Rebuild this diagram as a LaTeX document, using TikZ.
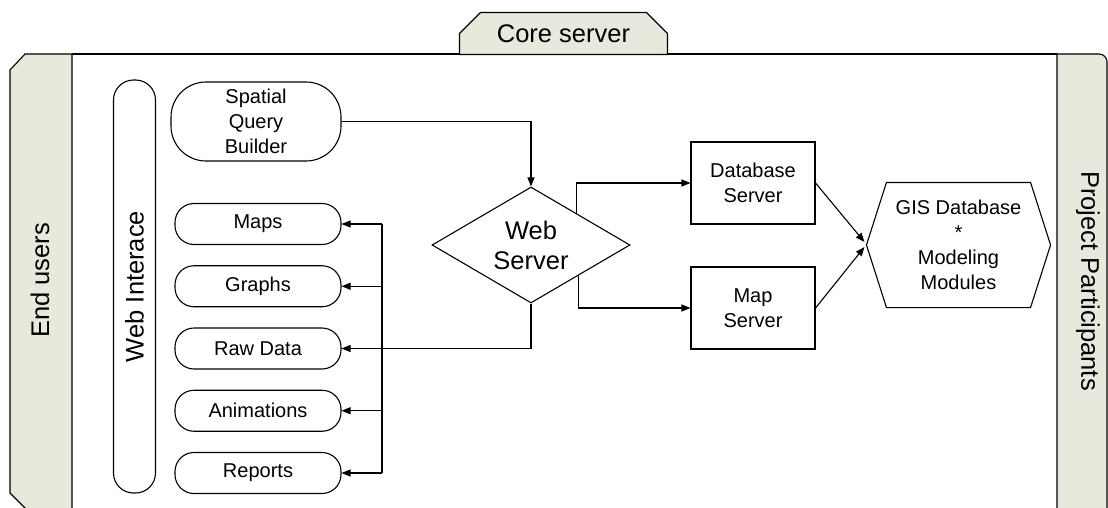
\documentclass[tikz,border=0pt]{standalone}
\usepackage{fontspec}
\setmainfont{Liberation Sans}
\usetikzlibrary{arrows.meta, calc, shapes.geometric, shapes.misc}
\definecolor{bandFill}{RGB}{230, 233, 219}
\tikzset{
  Lbl/.style     = {font=\fontsize{20}{25}\selectfont, align=center, inner sep=0pt},
  Big/.style     = {font=\fontsize{25.5}{30}\selectfont, align=center, inner sep=0pt},
  Band/.style    = {draw, fill=bandFill},
  BandTxt/.style = {Big},
  Tab/.style     = {Big, draw, fill=bandFill, chamfered rectangle,
                    chamfered rectangle corners={north west, north east},
                    chamfered rectangle xsep=11pt, chamfered rectangle ysep=12pt,
                    minimum width=208pt, minimum height=41pt},
  Pill/.style    = {Big, draw, rounded corners=20pt, minimum width=413pt, minimum height=42pt},
  Query/.style   = {Lbl, draw, rounded corners=35pt, minimum width=170pt, minimum height=79pt},
  Out/.style     = {Lbl, draw, rounded corners=19pt, minimum width=166pt, minimum height=41pt},
  Srv/.style     = {Lbl, draw, minimum width=124pt, minimum height=82pt},
  Hub/.style     = {Big, draw, diamond, aspect=1.7, minimum width=198pt, minimum height=116pt},
  Gis/.style     = {Lbl, minimum width=183pt, minimum height=124pt},
  Link/.style    = {-{Triangle[length=9pt, width=7pt]}},
}

\begin{document}
\begin{tikzpicture}[x=1pt, y=-1pt, line width=1.1pt]
\useasboundingbox (0,0) rectangle (1108,508);
\clip (0,0) rectangle (1108,508);

% ======================= frame and side bands ============================
\draw[Band] (72,54) -- (25,54) -- (10,70) -- (10,493) -- (30,513) -- (72,513) -- cycle;
\draw[Band] (1057,515) -- (1057,54) -- (1099,54)
            arc[start angle=90, end angle=0, radius=8pt] -- (1107,515) -- cycle;
\draw (72,54) -- (1057,54);
\node[Tab] (core) at (563.5,33.5) {Core server};
\node[BandTxt, rotate=90]  (users) at (40,280.5) {End users};
\node[BandTxt, rotate=-90] (parts) at (1088,281) {Project Participants};

% ======================= web interface ===================================
\node[Pill, rotate=90] (webif) at (134.5,286.5) {Web Interace};
\node[Query] (sqb) at (256,121.5) {Spatial\\Query\\Builder};
\foreach \lab/\nm [count=\i] in {Maps/maps, Graphs/graphs, Raw Data/raw,
                                 Animations/anim, Reports/rep}
    \node[Out] (\nm) at (258, {224+(\i-1)*62.25}) {\lab};

% ======================= servers =========================================
\node[Hub] (web) at (531,245) {Web\\Server};
\node[Srv] (db)  at (753,183) {Database\\Server};
\node[Srv] (map) at (753,308) {Map\\Server};
\node[Gis] (gis) at (958.5,245) {GIS Database\\*\\Modeling\\Modules};
\draw (gis.west) -- ($(gis.north west)+(20,0)$) -- ($(gis.north east)+(-20,0)$)
   -- (gis.east) -- ($(gis.south east)+(-20,0)$) -- ($(gis.south west)+(20,0)$) -- cycle;

% ======================= connectors ======================================
\draw[Link] (sqb.east) -| (web.north);
\draw[Link] ($(web.north)!0.46!(web.east)$) |- (db.west);
\draw[Link] ($(web.east)!0.52!(web.south)$) |- (map.west);
\draw[Link] (web.south) |- (raw.east);
\coordinate (busT) at (382,224);
\coordinate (busB) at (382,473);
\draw (busT) -- (busB);
\foreach \nm in {maps, graphs, anim, rep}
    \draw[Link] (busT |- \nm.east) -- (\nm.east);
\draw[Link] (db.east)  -- ($(gis.west)+(-2,-3)$);
\draw[Link] (map.east) -- ($(gis.west)+(-2,2)$);

\end{tikzpicture}
\end{document}
